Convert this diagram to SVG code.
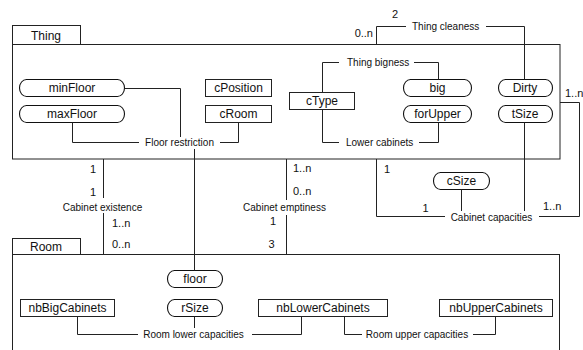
<svg xmlns="http://www.w3.org/2000/svg" width="583" height="350" viewBox="0 0 583 350">
<style>
.box{fill:#fff;stroke:#222;stroke-width:1}
.attr{fill:#fff;stroke:#111;stroke-width:1.1}
.ln{fill:none;stroke:#222;stroke-width:1}
text{font-family:"Liberation Sans",Arial,sans-serif;fill:#111}
.t{font-size:12px;text-anchor:middle}
.a{font-size:10px}
.m{font-size:11px}
</style>
<rect width="583" height="350" fill="#fff"/>
<g id="thing">
<rect class="box" x="12.5" y="44.5" width="547.5" height="114.5"/>
<rect class="box" x="12.5" y="25.5" width="68" height="19"/>
<text class="t" x="46" y="39.5">Thing</text>
</g>
<g id="room">
<rect class="box" x="12.5" y="254.5" width="547" height="110"/>
<rect class="box" x="12.5" y="238.5" width="68" height="16"/>
<text class="t" x="46" y="250.5">Room</text>
</g>
<g id="minFloor"><rect class="attr" x="19.5" y="79.5" width="105" height="17" rx="7" ry="8.5"/><text class="t" x="72" y="92">minFloor</text></g>
<g id="maxFloor"><rect class="attr" x="19.5" y="105.5" width="105" height="17" rx="7" ry="8.5"/><text class="t" x="72" y="118">maxFloor</text></g>
<g id="cPosition"><rect class="box" x="205.5" y="79.5" width="66" height="17"/><text class="t" x="238.5" y="92">cPosition</text></g>
<g id="cRoom"><rect class="box" x="205.5" y="105.5" width="66" height="17"/><text class="t" x="238.5" y="118">cRoom</text></g>
<g id="cType"><rect class="box" x="289.5" y="92.5" width="65" height="17"/><text class="t" x="322" y="105">cType</text></g>
<g id="big"><rect class="attr" x="403.5" y="79.5" width="68" height="17" rx="7" ry="8.5"/><text class="t" x="437.5" y="92">big</text></g>
<g id="forUpper"><rect class="attr" x="403.5" y="105.5" width="68" height="17" rx="7" ry="8.5"/><text class="t" x="437.5" y="118">forUpper</text></g>
<g id="Dirty"><rect class="attr" x="498.5" y="79.5" width="54" height="17" rx="7" ry="8.5"/><text class="t" x="525" y="92">Dirty</text></g>
<g id="tSize"><rect class="attr" x="498.5" y="105.5" width="54" height="17" rx="7" ry="8.5"/><text class="t" x="525" y="118">tSize</text></g>
<g id="cSize"><rect class="attr" x="433.5" y="172.5" width="56" height="17" rx="7" ry="8.5"/><text class="t" x="461.5" y="185">cSize</text></g>
<g id="floor"><rect class="attr" x="167.5" y="270.5" width="55" height="17" rx="7" ry="8.5"/><text class="t" x="195" y="283">floor</text></g>
<g id="rSize"><rect class="attr" x="167.5" y="299.5" width="55" height="17" rx="7" ry="8.5"/><text class="t" x="195" y="312">rSize</text></g>
<g id="nbBigCabinets"><rect class="box" x="20.5" y="299.5" width="94" height="17"/><text class="t" x="67.5" y="312">nbBigCabinets</text></g>
<g id="nbLowerCabinets"><rect class="box" x="258.5" y="299.5" width="129" height="17"/><text class="t" x="323" y="312">nbLowerCabinets</text></g>
<g id="nbUpperCabinets"><rect class="box" x="439.5" y="299.5" width="113" height="17"/><text class="t" x="496" y="312">nbUpperCabinets</text></g>
<g id="connectors">
<path class="ln" d="M124.5,88.5 H180.5 V137 M72.5,122.5 V142.5 H139 M220,142.5 H238.5 V122.5 M194.5,149 V270.5"/>
<text class="a" x="179.5" y="145.5" text-anchor="middle">Floor restriction</text>
<path class="ln" d="M322.5,92.5 V62.5 H339 M414,62.5 H438.5 V79.5"/>
<text class="a" x="347" y="65.5">Thing bigness</text>
<path class="ln" d="M322.5,109.5 V142.5 H339 M419,142.5 H438.5 V122.5"/>
<text class="a" x="346" y="145.5">Lower cabinets</text>
<path class="ln" d="M376.5,44.5 V26.5 H406 M486,26.5 H524.5 V79.5"/>
<text class="a" x="412" y="29.5">Thing cleaness</text>
<text class="m" x="395" y="18" text-anchor="middle">2</text>
<text class="m" x="373" y="37" text-anchor="end">0..n</text>
<path class="ln" d="M376.5,159 V216.5 H445 M524.5,122.5 V211 M461.5,189.5 V211 M560,102.5 H579.5 V216.5 H539"/>
<text class="a" x="491.5" y="221" text-anchor="middle">Cabinet capacities</text>
<text class="m" x="387" y="173" text-anchor="middle">1</text>
<text class="m" x="425.5" y="212" text-anchor="middle">1</text>
<text class="m" x="543" y="210">1..n</text>
<text class="m" x="565" y="97">1..n</text>
<path class="ln" d="M103.5,159 V198 M103.5,213 V254.5"/>
<text class="a" x="102.5" y="210.5" text-anchor="middle">Cabinet existence</text>
<text class="m" x="93" y="173" text-anchor="middle">1</text>
<text class="m" x="93" y="196" text-anchor="middle">1</text>
<text class="m" x="112" y="227">1..n</text>
<text class="m" x="112" y="248">0..n</text>
<path class="ln" d="M286.5,159 V200 M286.5,215 V254.5"/>
<text class="a" x="284.5" y="211" text-anchor="middle">Cabinet emptiness</text>
<text class="m" x="293" y="172">1..n</text>
<text class="m" x="293" y="195">0..n</text>
<text class="m" x="273" y="225" text-anchor="middle">1</text>
<text class="m" x="271.5" y="248" text-anchor="middle">3</text>
<path class="ln" d="M77.5,316.5 V334.5 H138 M194.5,316.5 V328 M252,334.5 H301.5 V316.5"/>
<text class="a" x="193.5" y="337.5" text-anchor="middle">Room lower capacities</text>
<path class="ln" d="M344.5,316.5 V334.5 H362 M473,334.5 H495.5 V316.5"/>
<text class="a" x="417" y="337.5" text-anchor="middle">Room upper capacities</text>
</g>
</svg>
